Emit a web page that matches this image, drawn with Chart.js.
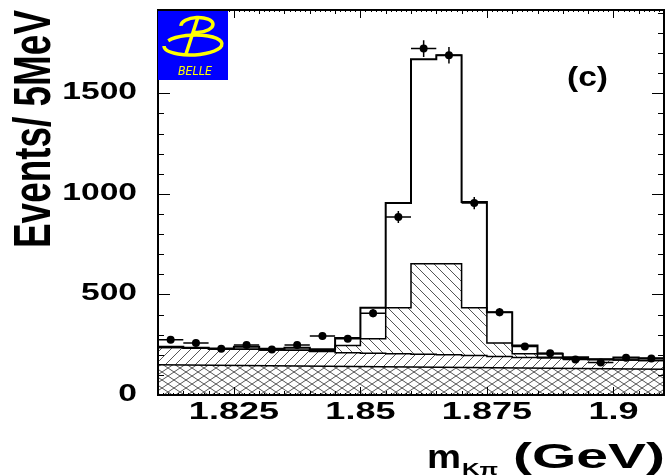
<!DOCTYPE html>
<html>
<head>
<meta charset="utf-8">
<script src="https://cdn.jsdelivr.net/npm/chart.js@4.4.1/dist/chart.umd.min.js"></script>
<style>
  html, body { margin: 0; padding: 0; background: #fff; }
</style>
</head>
<body>
<canvas id="myChart" width="668" height="476"></canvas>
<script>
// bins: 5 MeV wide, starting at 1.81 GeV
const binStart = 1.81;
const binWidth = 0.005;
const counts     = [275, 258, 230, 248, 226, 248, 293, 280, 407, 885, 1722, 1689, 954, 412, 241, 208, 177, 162, 185, 182];
const fitTotal   = [240, 235, 231, 240, 230, 235, 228, 283, 434, 954, 1669, 1689, 959, 412, 246, 205, 188, 178, 186, 183];
const fitSignal  = [236, 232, 229, 228, 224, 222, 220, 246, 280, 434, 653, 653, 434, 258, 205, 188, 182, 176, 174, 172];
const fitPeaking = [236, 232, 229, 228, 224, 222, 216, 210, 207, 205, 203, 200, 196, 192, 187, 184, 181, 176, 174, 172];
const combX = [1.81, 1.91];
const combY = [150, 128];
const xTickValues = [1.825, 1.85, 1.875, 1.9];
const xTickLabels = ['1.825', '1.85', '1.875', '1.9'];
const yTickValues = [0, 500, 1000, 1500];
const yTickLabels = ['0', '500', '1000', '1500'];

function steps(vals) {
  const pts = vals.map((v, i) => ({ x: binStart + i * binWidth, y: v }));
  pts.push({ x: binStart + vals.length * binWidth, y: vals[vals.length - 1] });
  return pts;
}

function hatch(kind) {
  const c = document.createElement('canvas');
  const w = kind === 'cross' ? 12 : 10;
  const h = kind === 'cross' ? 8 : 10;
  c.width = w; c.height = h;
  const g = c.getContext('2d');
  g.strokeStyle = '#555';
  g.lineWidth = 1;
  g.beginPath();
  for (const x of [-w, 0, w]) {
    if (kind !== 'back') { g.moveTo(x, h); g.lineTo(x + w, 0); }
    if (kind !== 'fwd') { g.moveTo(x, 0); g.lineTo(x + w, h); }
  }
  g.stroke();
  return g.createPattern(c, 'repeat');
}

function wideText(ctx, txt, x, y, align, sx) {
  const w = ctx.measureText(txt).width * sx;
  const x0 = align === 'right' ? x - w : align === 'center' ? x - w / 2 : x;
  ctx.save();
  ctx.translate(x0, y);
  ctx.scale(sx, 1);
  ctx.textAlign = 'left';
  ctx.fillText(txt, 0, 0);
  ctx.restore();
}

function fitText(ctx, txt, x, y, width) {
  wideText(ctx, txt, x, y, 'left', width / ctx.measureText(txt).width);
}

const decor = {
  id: 'decor',
  afterDatasetsDraw(chart) {
    const ctx = chart.ctx, xs = chart.scales.x, ys = chart.scales.y;
    ctx.save();
    ctx.strokeStyle = '#000';
    ctx.lineWidth = 1.5;
    counts.forEach((v, i) => {
      const xc = binStart + (i + 0.5) * binWidth;
      const e = Math.sqrt(v);
      const px = xs.getPixelForValue(xc), py = ys.getPixelForValue(v);
      ctx.beginPath();
      ctx.moveTo(px, ys.getPixelForValue(v - e));
      ctx.lineTo(px, ys.getPixelForValue(v + e));
      ctx.moveTo(xs.getPixelForValue(xc - binWidth / 2), py);
      ctx.lineTo(xs.getPixelForValue(xc + binWidth / 2), py);
      ctx.stroke();
    });
    ctx.restore();
  },
  afterDraw(chart) {
    const ctx = chart.ctx, xs = chart.scales.x, ys = chart.scales.y;
    const a = chart.chartArea;
    ctx.save();
    ctx.strokeStyle = '#000';
    ctx.fillStyle = '#000';

    // frame
    ctx.lineWidth = 2;
    ctx.strokeRect(a.left, a.top, a.right - a.left, a.bottom - a.top);

    // x ticks, 1 MeV steps, inward on bottom and top
    ctx.lineWidth = 1;
    ctx.beginPath();
    for (let k = 0; k <= 100; k++) {
      const px = Math.round(xs.getPixelForValue(binStart + k * 0.001)) + 0.5;
      const len = (k + 10) % 25 === 0 ? 8 : k % 5 === 0 ? 4 : 2;
      ctx.moveTo(px, a.bottom); ctx.lineTo(px, a.bottom - len);
      ctx.moveTo(px, a.top); ctx.lineTo(px, a.top + len);
    }
    // y ticks every 100
    for (let v = 0; v <= 1900; v += 100) {
      const py = Math.round(ys.getPixelForValue(v)) + 0.5;
      const len = v % 500 === 0 ? 12 : 6;
      ctx.moveTo(a.left, py); ctx.lineTo(a.left + len, py);
      ctx.moveTo(a.right, py); ctx.lineTo(a.right - len, py);
    }
    ctx.stroke();

    // tick labels
    ctx.textBaseline = 'alphabetic';
    ctx.font = 'bold 24px "Liberation Sans"';
    yTickValues.forEach((v, i) => {
      wideText(ctx, yTickLabels[i], 137, ys.getPixelForValue(v) + 6, 'right', 1.4);
    });
    ctx.font = 'bold 24px "Liberation Sans"';
    xTickValues.forEach((v, i) => {
      wideText(ctx, xTickLabels[i], xs.getPixelForValue(v), 419, 'center', 1.5);
    });

    // axis titles
    ctx.font = 'bold 33px "Liberation Sans"';
    fitText(ctx, 'm', 427, 468, 34);
    ctx.font = 'bold 35px "Liberation Sans"';
    fitText(ctx, '(GeV)', 513, 468, 152);
    ctx.font = 'bold 17px "Liberation Sans"';
    fitText(ctx, 'K\u03c0', 462, 475, 36);

    ctx.save();
    ctx.font = 'bold 36px "Liberation Sans"';
    const tw = ctx.measureText('Events/ 5MeV').width;
    ctx.translate(50, 248);
    ctx.rotate(-Math.PI / 2);
    ctx.scale(238 / tw, 1.43);
    ctx.fillText('Events/ 5MeV', 0, 0);
    ctx.restore();

    // panel label
    ctx.font = 'bold 28px "Liberation Sans"';
    fitText(ctx, '(c)', 567, 86, 41);

    // Belle logo
    ctx.fillStyle = '#0000ff';
    ctx.fillRect(158, 11, 70, 69);
    ctx.strokeStyle = '#ffff00';
    ctx.fillStyle = '#ffff00';
    ctx.lineWidth = 3.5;
    ctx.beginPath();
    ctx.ellipse(193, 45, 29, 10, -0.04, 3.7, 3.7 + 2 * Math.PI - 0.55);
    ctx.stroke();
    ctx.beginPath();
    ctx.ellipse(197, 25, 16, 7.5, -0.05, Math.PI, 2.5 * Math.PI + 0.3);
    ctx.stroke();
    ctx.beginPath();
    ctx.moveTo(198, 17);
    ctx.lineTo(186, 54);
    ctx.stroke();
    ctx.font = 'italic 12px "DejaVu Sans"';
    fitText(ctx, 'BELLE', 178, 75, 34);

    ctx.restore();
  }
};

new Chart('myChart', {
  type: 'line',
  data: {
    datasets: [
      {
        label: 'combinatorial',
        data: combX.map((x, i) => ({ x: x, y: combY[i] })),
        borderColor: '#000',
        borderWidth: 1.5,
        pointRadius: 0,
        fill: 'origin',
        backgroundColor: hatch('cross')
      },
      {
        label: 'peaking',
        data: steps(fitPeaking),
        stepped: true,
        borderColor: '#000',
        borderWidth: 1.5,
        pointRadius: 0,
        fill: '-1',
        backgroundColor: hatch('fwd')
      },
      {
        label: 'signal',
        data: steps(fitSignal),
        stepped: true,
        borderColor: '#000',
        borderWidth: 1.5,
        pointRadius: 0,
        fill: '-1',
        backgroundColor: hatch('back')
      },
      {
        label: 'total',
        data: steps(fitTotal),
        stepped: true,
        borderColor: '#000',
        borderWidth: 2,
        pointRadius: 0,
        fill: false
      },
      {
        label: 'data',
        type: 'scatter',
        data: counts.map((v, i) => ({ x: binStart + (i + 0.5) * binWidth, y: v })),
        showLine: false,
        pointRadius: 4,
        pointBackgroundColor: '#000',
        pointBorderColor: '#000',
        pointBorderWidth: 0,
        order: -1
      }
    ]
  },
  options: {
    responsive: false,
    animation: false,
    devicePixelRatio: 1,
    layout: { padding: { top: 10, right: 1, bottom: 0, left: 0 } },
    plugins: { legend: { display: false }, tooltip: { enabled: false } },
    scales: {
      x: {
        type: 'linear',
        min: 1.81,
        max: 1.91,
        grid: { display: false },
        border: { display: false },
        ticks: { display: false },
        afterFit: s => { s.height = 81; }
      },
      y: {
        min: 0,
        max: 1914,
        grid: { display: false },
        border: { display: false },
        ticks: { display: false },
        afterFit: s => { s.height; s.width = 158; }
      }
    }
  },
  plugins: [decor]
});
</script>
</body>
</html>
